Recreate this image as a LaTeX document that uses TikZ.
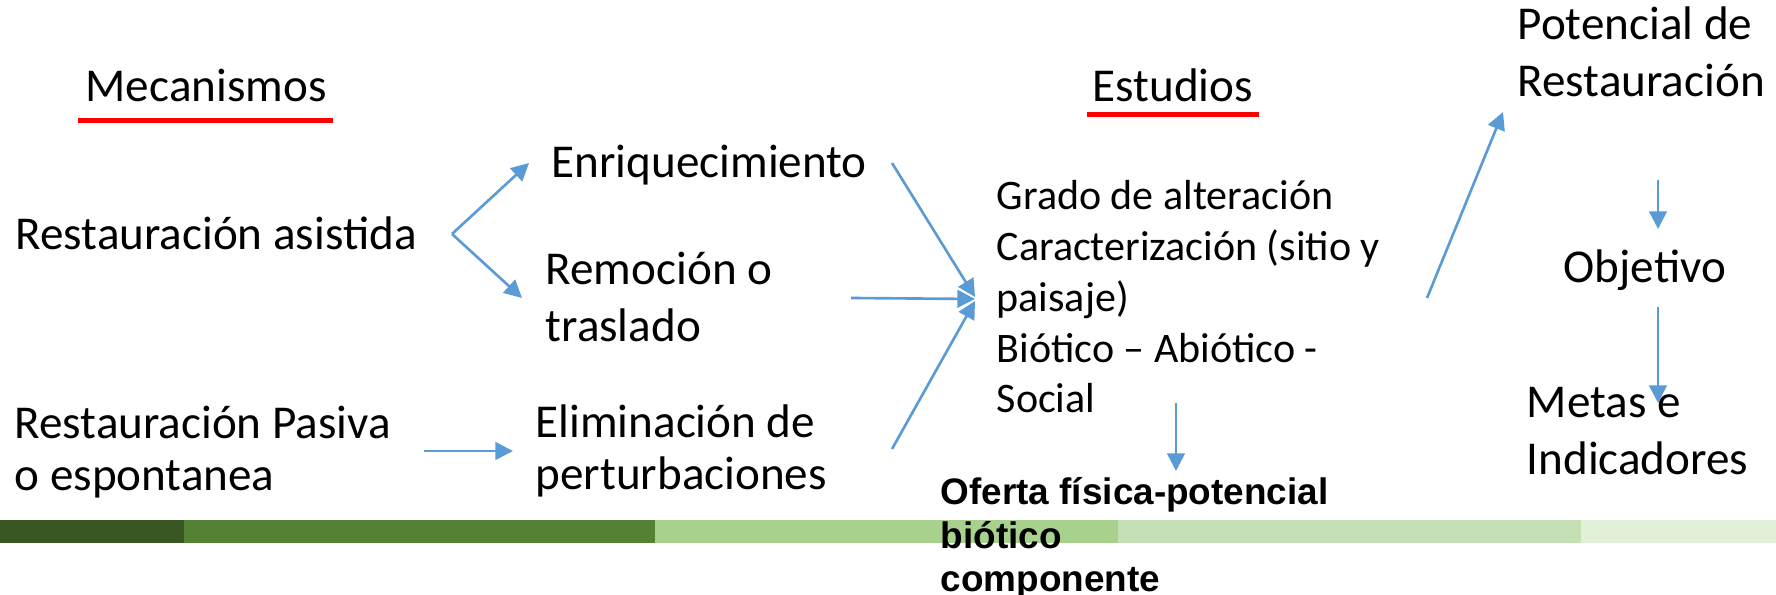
\documentclass[tikz,border=0pt]{standalone}
\usepackage{fontspec}
\setmainfont{Carlito}
\newfontfamily\arialfont{Liberation Sans}
\usetikzlibrary{arrows.meta}
\definecolor{flecha}{HTML}{5B9BD5}
\definecolor{rojo}{HTML}{FF0000}
\definecolor{verdeA}{HTML}{385723}
\definecolor{verdeB}{HTML}{548235}
\definecolor{verdeC}{HTML}{A9D18E}
\definecolor{verdeD}{HTML}{C5E0B4}
\definecolor{verdeE}{HTML}{E2F0D9}

\begin{document}
\begin{tikzpicture}[x=0.01cm,y=-0.01cm,inner sep=0pt,
    txt/.style={anchor=base west,align=left,font=\fontsize{13.4pt}{16.3pt}\selectfont},
    txtb/.style={txt,font=\fontsize{13.4pt}{15pt}\selectfont},
    chico/.style={anchor=base west,align=left,font=\fontsize{11.95pt}{14.5pt}\selectfont},
    negrita/.style={anchor=base west,align=left,font=\arialfont\bfseries\fontsize{10.5pt}{12.5pt}\selectfont},
    subraya/.style={draw=rojo,line width=0.05cm},
    franja/.style={fill=#1,draw=none},
    >={Triangle[length=5pt,width=5pt]},
    flech/.style={color=flecha,line width=0.75pt,->}]
    \useasboundingbox (0,0) rectangle (1776,595);

    % franja verde
    \fill[franja=verdeA] (0,520) rectangle (184,543);
    \fill[franja=verdeB] (184,520) rectangle (655,543);
    \fill[franja=verdeC] (655,520) rectangle (1118,543);
    \fill[franja=verdeD] (1118,520) rectangle (1581,543);
    \fill[franja=verdeE] (1581,520) rectangle (1776,543);

    % titulos (multilinea: base = ultima linea)
    \node[txt] (mec) at (85,102) {Mecanismos};
    \node[txt] (est) at (1092,102) {Estudios};
    \draw[subraya] (78,121) -- (333,121);
    \draw[subraya] (1087,115) -- (1259,115);

    \node[txt] (asist) at (15,250) {Restauración asistida};
    \node[txtb] (pasiva) at (14,491) {Restauración Pasiva\\o espontanea};
    \node[txt] (enr) at (551,178) {Enriquecimiento};
    \node[txt] (remo) at (545,342) {Remoción o\\traslado};
    \node[txtb] (elim) at (535,490) {Eliminación de\\perturbaciones};
    \node[chico] (grado) at (996,413) {Grado de alteración\\Caracterización (sitio y\\paisaje)\\Biótico – Abiótico -\\Social};
    \node[negrita] (oferta) at (940,592) {Oferta física-potencial\\biótico\\componente};
    \node[txt] (pot) at (1517,97) {Potencial de\\Restauración};
    \node[txt] (obj) at (1563,283) {Objetivo};
    \node[txt] (metas) at (1526,475) {Metas e\\Indicadores};

    % extremos de flechas
    \coordinate (asistA) at (452,234);
    \coordinate (enrB) at (529,163);
    \coordinate (remoB) at (522,298);
    \coordinate (pasivaA) at (424,451);
    \coordinate (elimB) at (513,451);
    \coordinate (enrA) at (892,163);
    \coordinate (remoA) at (851,298);
    \coordinate (elimA) at (892,449);
    \coordinate (gradoB1) at (975,297);
    \coordinate (gradoB2) at (975,299);
    \coordinate (gradoB3) at (975,301);
    \coordinate (gradoA) at (1176,403);
    \coordinate (ofertaB) at (1176,471);
    \coordinate (potA) at (1427,298);
    \coordinate (potB) at (1503,112);
    \coordinate (objA) at (1658,180);
    \coordinate (objB) at (1658,229);
    \coordinate (metasA) at (1658,307);
    \coordinate (metasB) at (1658,403);

    \path[flech] (asistA) edge (enrB) edge (remoB)
        (pasivaA) edge (elimB)
        (enrA) edge (gradoB1)
        (remoA) edge (gradoB2)
        (elimA) edge (gradoB3)
        (gradoA) edge (ofertaB)
        (potA) edge (potB)
        (objA) edge (objB)
        (metasA) edge (metasB);
\end{tikzpicture}
\end{document}
